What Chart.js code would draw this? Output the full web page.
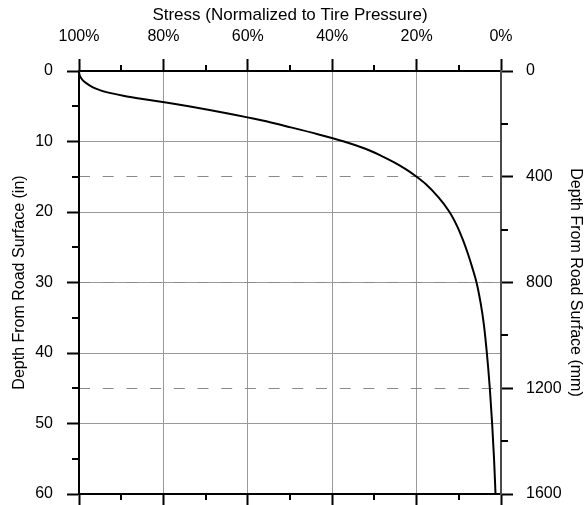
<!DOCTYPE html>
<html>
<head>
<meta charset="utf-8">
<script src="https://cdn.jsdelivr.net/npm/chart.js@4/dist/chart.umd.min.js"></script>
<style>
  html, body { margin: 0; padding: 0; background: #fff; }
  #wrap { width: 587px; height: 505px; }
</style>
</head>
<body>
<div id="wrap"><canvas id="c" width="587" height="505"></canvas></div>
<script>
// Vertical stress beneath a loaded tire, as a share of tire pressure, versus depth.
const depthIn = [0, 0.5, 1, 1.5, 2, 2.5, 3, 3.5, 4, 4.5, 5, 6, 7, 8, 9, 10, 11, 12, 13, 14,
                 15, 16, 18, 20, 22, 24, 26, 28, 30, 33, 36, 40, 45, 50, 55, 60];
const stressPct = [100, 99.9, 99.5, 98.8, 97.6, 96, 93.5, 89.5, 84.5, 79, 74, 65, 56.8, 49.8, 43.2, 37.2, 32.3, 28.5, 25.2, 22.4,
                   20, 17.9, 14.7, 12.2, 10.4, 9.0, 7.8, 6.75, 5.8, 4.8, 4.05, 3.35, 2.65, 2.1, 1.65, 1.3];

// Axis ranges and tick positions
const stressMajor = [0, 20, 40, 60, 80, 100];
const stressMinor = [10, 30, 50, 70, 90];
const depthMajor = [0, 10, 20, 30, 40, 50, 60];
const depthMinor = [5, 15, 25, 35, 45, 55];
const mmMajor = [0, 400, 800, 1200, 1600];
const mmMinor = [200, 600, 1000, 1400];

Chart.defaults.font.family = "'Liberation Sans', Arial, Helvetica, sans-serif";
Chart.defaults.font.size = 16;
Chart.defaults.color = '#000';

const points = depthIn.map((d, i) => ({ x: stressPct[i], y: d }));

// Short unlabeled ticks between the labeled ones
const minorTicks = {
  id: 'minorTicks',
  afterDraw(chart) {
    const { ctx, chartArea: a, scales } = chart;
    ctx.save();
    ctx.strokeStyle = '#000';
    ctx.lineWidth = 2;
    const seg = (x1, y1, x2, y2) => { ctx.beginPath(); ctx.moveTo(x1, y1); ctx.lineTo(x2, y2); ctx.stroke(); };
    stressMinor.forEach(v => {
      const x = Math.round(scales.x.getPixelForValue(v));
      seg(x, a.top, x, a.top - 6);
      seg(x, a.bottom, x, a.bottom + 6);
    });
    depthMinor.forEach(v => {
      const y = Math.round(scales.y.getPixelForValue(v));
      seg(a.left - 7, y, a.left, y);
    });
    mmMinor.forEach(v => {
      const y = Math.round(scales.y2.getPixelForValue(v));
      seg(a.right, y, a.right + 7, y);
    });
    ctx.restore();
  }
};

const innerOnly = (edges, color) => (c) => edges.includes(c.tick && c.tick.value) ? 'rgba(0,0,0,0)' : color;
// Fixed box sizes so the plot area sits where it should
const fixBox = (prop, size) => (s) => {
  s[prop] = size;
  s.paddingTop = 0; s.paddingBottom = 0; s.paddingLeft = 0; s.paddingRight = 0;
};

new Chart(document.getElementById('c'), {
  type: 'scatter',
  data: {
    datasets: [{
      data: points,
      showLine: true,
      borderColor: '#000',
      borderWidth: 2,
      pointRadius: 0,
      indexAxis: 'y',
      cubicInterpolationMode: 'monotone',
      xAxisID: 'x',
      yAxisID: 'y'
    }]
  },
  options: {
    responsive: false,
    animation: false,
    devicePixelRatio: 1,
    layout: { padding: 0 },
    plugins: { legend: { display: false }, tooltip: { enabled: false } },
    scales: {
      x: {
        type: 'linear', position: 'top', reverse: true,
        min: 0, max: 100,
        afterFit: fixBox('height', 71),
        afterBuildTicks(s) { s.ticks = stressMajor.map(v => ({ value: v })); },
        ticks: { padding: 13, callback: v => v + '%', maxRotation: 0, color: '#000' },
        grid: { color: innerOnly([0, 100], '#999'), lineWidth: 1, tickLength: 12, tickColor: '#000', tickWidth: 2 },
        border: { display: true, color: '#000', width: 2 },
        title: { display: true, text: 'Stress (Normalized to Tire Pressure)', color: '#000', font: { size: 17 }, padding: { top: 5, bottom: 0 } }
      },
      x2: {
        type: 'linear', position: 'bottom', reverse: true,
        min: 0, max: 100,
        afterFit: fixBox('height', 11),
        afterBuildTicks(s) { s.ticks = stressMajor.map(v => ({ value: v })); },
        ticks: { display: false },
        grid: { drawOnChartArea: false, tickLength: 12, tickColor: '#000', tickWidth: 2 },
        border: { display: true, color: '#000', width: 2 }
      },
      y: {
        type: 'linear', position: 'left', reverse: true,
        min: 0, max: 60,
        afterFit: fixBox('width', 79),
        afterBuildTicks(s) { s.ticks = depthMajor.map(v => ({ value: v })); },
        ticks: { padding: 14, color: '#000', callback: v => String(v) },
        grid: { color: innerOnly([0, 60], '#999'), lineWidth: 1, tickLength: 12, tickColor: '#000', tickWidth: 2 },
        border: { display: true, color: '#000', width: 2 },
        title: { display: true, text: 'Depth From Road Surface (in)', color: '#000', padding: { top: 10, bottom: 0 } }
      },
      y2: {
        type: 'linear', position: 'right', reverse: true,
        min: 0, max: 1600,
        afterFit: fixBox('width', 86),
        afterBuildTicks(s) { s.ticks = mmMajor.map(v => ({ value: v })); },
        ticks: { padding: 13, color: '#000', callback: v => String(v) },
        grid: { color: innerOnly([0, 1600], '#8a8a8a'), lineWidth: 1, tickLength: 12, tickColor: '#000', tickWidth: 2 },
        border: { display: true, color: '#4a4a4a', width: 2, dash: [11, 12.7] },
        title: { display: true, text: 'Depth From Road Surface (mm)', color: '#000', padding: { top: 2, bottom: 0 } }
      }
    }
  },
  plugins: [minorTicks]
});
</script>
</body>
</html>
